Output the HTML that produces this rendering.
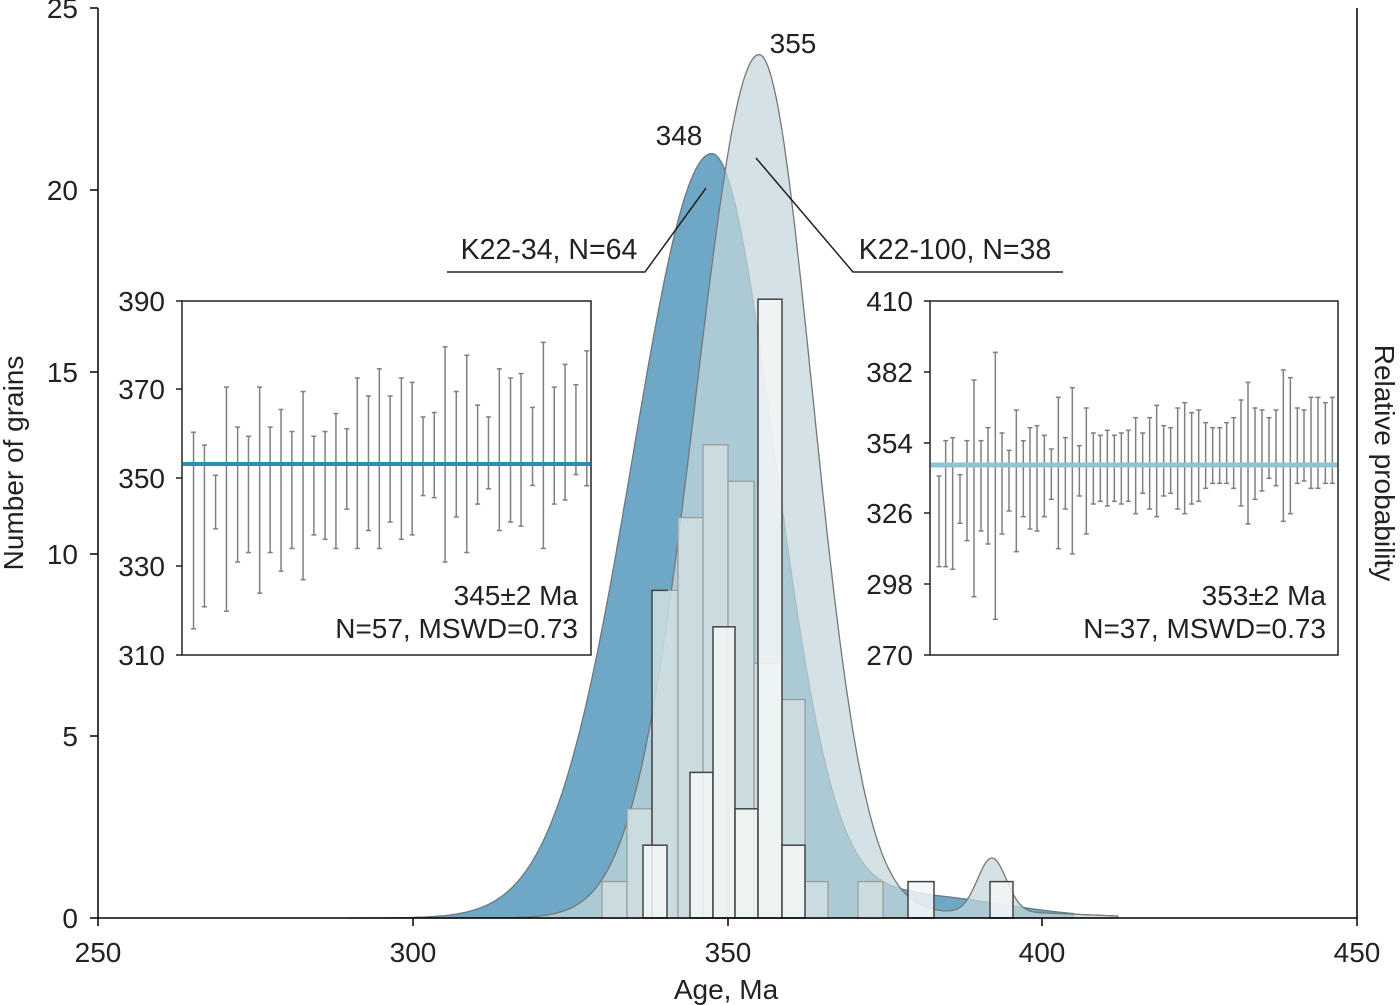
<!DOCTYPE html>
<html><head><meta charset="utf-8"><style>
html,body{margin:0;padding:0;background:#fff;}
svg{display:block;font-family:"Liberation Sans",Arial,sans-serif;}
</style></head><body>
<svg id="s" width="1400" height="1005" viewBox="0 0 1400 1005" xmlns="http://www.w3.org/2000/svg">
<rect width="1400" height="1005" fill="#fff"/>
<g id="curves"></g>
<g id="bars"></g>
<path d="M98,8 V918 H1357 V8" fill="none" stroke="#000" stroke-width="1.5"/>
<g stroke="#000" stroke-width="1.5">
<line x1="90" y1="8" x2="98" y2="8"/><line x1="90" y1="190" x2="98" y2="190"/><line x1="90" y1="372" x2="98" y2="372"/><line x1="90" y1="554" x2="98" y2="554"/><line x1="90" y1="736" x2="98" y2="736"/><line x1="90" y1="918" x2="98" y2="918"/>
<line x1="98" y1="918" x2="98" y2="926"/><line x1="413" y1="918" x2="413" y2="926"/><line x1="728" y1="918" x2="728" y2="926"/><line x1="1042" y1="918" x2="1042" y2="926"/><line x1="1357" y1="918" x2="1357" y2="926"/>
</g>
<g font-size="28" fill="#222" text-anchor="end">
<text x="78" y="18">25</text><text x="78" y="200">20</text><text x="78" y="382">15</text><text x="78" y="564">10</text><text x="78" y="746">5</text><text x="78" y="928">0</text>
</g>
<g font-size="28" fill="#222" text-anchor="middle">
<text x="98" y="962">250</text><text x="413" y="962">300</text><text x="728" y="962">350</text><text x="1042" y="962">400</text><text x="1357" y="962">450</text>
<text x="726" y="999">Age, Ma</text>
</g>
<text font-size="28" fill="#222" text-anchor="middle" transform="translate(23,463) rotate(-90)">Number of grains</text>
<text font-size="28" fill="#222" text-anchor="middle" transform="translate(1375,463) rotate(90)">Relative probability</text>
<text x="679" y="145" font-size="28" fill="#222" text-anchor="middle">348</text>
<text x="793" y="53" font-size="28" fill="#222" text-anchor="middle">355</text>
<polyline points="447,272 645,272 706,188" fill="none" stroke="#222" stroke-width="1.5"/>
<text x="549" y="259" font-size="28.5" fill="#222" text-anchor="middle">K22-34, N=64</text>
<polyline points="756,158 853,272 1063,272" fill="none" stroke="#222" stroke-width="1.5"/>
<text x="955" y="259" font-size="28.5" fill="#222" text-anchor="middle">K22-100, N=38</text>
<rect x="182" y="301" width="409" height="354" fill="#fff" stroke="#222" stroke-width="1.5"/>
<rect x="930" y="301" width="408" height="354" fill="#fff" stroke="#222" stroke-width="1.5"/>
<g id="eb"></g>
<g stroke="#222" stroke-width="1.5">
<line x1="176" y1="301" x2="182" y2="301"/><line x1="176" y1="389" x2="182" y2="389"/><line x1="176" y1="478" x2="182" y2="478"/><line x1="176" y1="566" x2="182" y2="566"/><line x1="176" y1="655" x2="182" y2="655"/>
<line x1="924" y1="301" x2="930" y2="301"/><line x1="924" y1="372" x2="930" y2="372"/><line x1="924" y1="443" x2="930" y2="443"/><line x1="924" y1="513" x2="930" y2="513"/><line x1="924" y1="584" x2="930" y2="584"/><line x1="924" y1="655" x2="930" y2="655"/>
</g>
<g font-size="28" fill="#222" text-anchor="end">
<text x="165" y="311">390</text><text x="165" y="399">370</text><text x="165" y="488">350</text><text x="165" y="576">330</text><text x="165" y="665">310</text>
<text x="913" y="311">410</text><text x="913" y="382">382</text><text x="913" y="453">354</text><text x="913" y="523">326</text><text x="913" y="594">298</text><text x="913" y="665">270</text>
<text x="578" y="605">345±2 Ma</text><text x="578" y="638">N=57, MSWD=0.73</text>
<text x="1326" y="605">353±2 Ma</text><text x="1326" y="638">N=37, MSWD=0.73</text>
</g>
</svg>
<script>
var NS="http://www.w3.org/2000/svg";
function X(a){return 98+(a-250)*6.295;}
function Y(n){return 918-n*36.4;}
function g(x,m,sl,sr){var s=x<m?sl:sr;return Math.exp(-0.5*Math.pow((x-m)/s,2));}
function path(f,a0,a1){var d="M"+X(a0)+","+918;for(var a=a0;a<=a1;a+=0.25){d+=" L"+X(a).toFixed(1)+","+Y(f(a)).toFixed(1);}d+=" L"+X(a1)+",918 Z";return d;}
function el(p,t,at){var e=document.createElementNS(NS,t);for(var k in at)e.setAttribute(k,at[k]);p.appendChild(e);return e;}
var cv=document.getElementById("curves");
var dark=function(a){return 21*g(a,347.5,12.5,10)+0.6*g(a,380,8,14);};
var light=function(a){return 23.7*g(a,355,10,8.5)+1.5*g(a,392,2.3,2.3)+0.15*g(a,395,20,12);};
el(cv,"path",{d:path(dark,290,405),fill:"#6fa8c6",stroke:"#6a7a80","stroke-width":1.3});
el(cv,"path",{d:path(light,300,412),fill:"#c3d7db","fill-opacity":0.72,stroke:"#777","stroke-width":1.3});
var bg=document.getElementById("bars");
var lb=[[602,627,1],[627,652,3],[652,678,9],[678,703,11],[703,728,13],[728,754,12],[754,782,7],[782,805,6],[805,828,1],[858,883,1]];
lb.forEach(function(b){el(bg,"rect",{x:b[0],y:Y(b[2]),width:b[1]-b[0],height:b[2]*36.4,fill:"#cfdfe0","fill-opacity":0.85,stroke:"#999","stroke-width":1.2});});
el(bg,"polyline",{points:"652,918 652,"+Y(9)+" 668,"+Y(9),fill:"none",stroke:"#444","stroke-width":1.5});
var wb=[[643,667,2],[690,713,4],[713,735,8],[735,758,3],[758,782,17],[782,805,2],[908,934,1],[990,1013,1]];
wb.forEach(function(b){el(bg,"rect",{x:b[0],y:Y(b[2]),width:b[1]-b[0],height:b[2]*36.4,fill:"#f3f6f7","fill-opacity":0.85,stroke:"#444","stroke-width":1.5});});
var eb=document.getElementById("eb");
var L=[[40,390,970],[72,428,905],[105,517,675],[137,257,918],[170,375,773],[202,402,745],[235,257,865],[266,375,745],[298,323,800],[330,388,733],[363,270,825],[395,402,693],[428,388,706],[460,335,733],[492,380,617],[523,230,733],[556,283,680],[588,203,733],[620,283,655],[653,230,706],[685,243,693],[717,345,577],[750,332,583],[782,138,773],[815,270,640],[846,163,745],[878,310,602],[910,345,557],[942,203,680],[975,230,655],[1006,217,667],[1040,317,547],[1072,125,733],[1104,257,602],[1136,190,590],[1168,250,515],[1200,150,548]];
var R=[[27,528,800],[47,422,800],[68,413,808],[90,524,670],[111,422,722],[132,240,890],[153,422,693],[174,383,732],[196,157,958],[216,399,702],[237,451,633],[259,330,755],[280,422,650],[300,383,687],[321,377,693],[343,406,650],[364,447,598],[385,292,746],[406,413,627],[427,263,762],[448,437,588],[469,324,702],[490,399,612],[511,406,604],[532,391,618],[553,406,604],[574,399,612],[595,391,604],[617,353,641],[638,399,580],[659,353,627],[680,316,650],[701,377,588],[722,383,580],[743,324,627],[764,308,641],[785,338,612],[806,330,604],[827,368,565],[848,383,550],[869,383,550],[890,368,550],[911,353,565],[933,300,618],[954,247,672],[975,324,598],[996,330,573],[1017,353,535],[1038,330,557],[1060,210,664],[1081,233,641],[1102,324,550],[1122,330,543],[1143,292,565],[1164,292,565],[1186,308,550],[1207,292,550]];
function draw(arr,ox,oy,sc){arr.forEach(function(b){var x=ox+b[0]/sc,t=oy+b[1]/sc,bt=oy+b[2]/sc;
el(eb,"line",{x1:x,y1:t,x2:x,y2:bt,stroke:"#808080","stroke-width":1.5});
el(eb,"line",{x1:x-2.5,y1:t,x2:x+2.5,y2:t,stroke:"#808080","stroke-width":1.5});
el(eb,"line",{x1:x-2.5,y1:bt,x2:x+2.5,y2:bt,stroke:"#808080","stroke-width":1.5});});}
draw(L,180,300,2.95);draw(R,930,300,3);
el(eb,"line",{x1:183,y1:464,x2:590,y2:464,stroke:"#2a8fb5","stroke-width":4});
el(eb,"line",{x1:931,y1:465,x2:1337,y2:465,stroke:"#8fc3d6","stroke-width":5});
</script>
</body></html>
